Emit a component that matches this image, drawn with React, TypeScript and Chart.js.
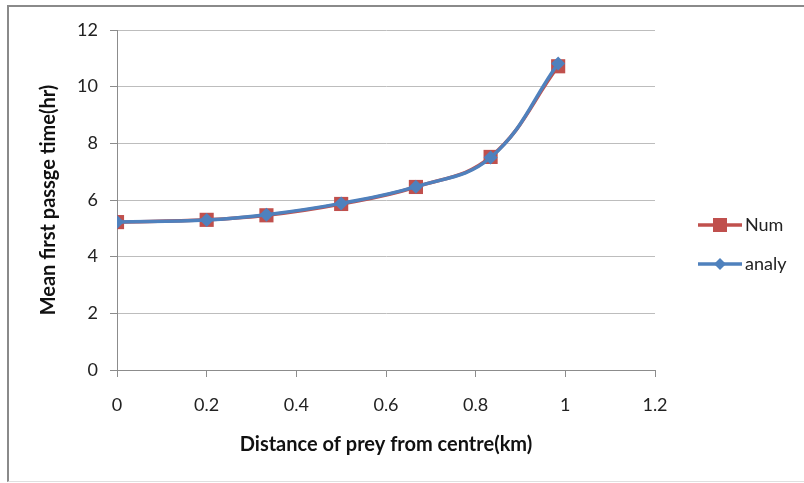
import React, { useEffect, useRef } from "react";
import { Chart, registerables } from "chart.js";

Chart.register(...registerables);

const distances = [0, 0.2, 0.3333, 0.5, 0.6667, 0.8333, 0.984];
const numValues = [5.22, 5.3, 5.46, 5.86, 6.46, 7.52, 10.72];
const analyValues = [5.22, 5.29, 5.48, 5.88, 6.47, 7.5, 10.82];
const seriesNames = ["Num", "analy"];
const xTitle = "Distance of prey from centre(km)";
const yTitle = "Mean first passge time(hr)";

const RED = "#C0504D";
const BLUE = "#4F81BD";
const FONT = "Lato, 'Open Sans', sans-serif";

const legendPlugin = {
  id: "sideLegend",
  afterDraw(chart: any) {
    const ctx = chart.ctx;
    const items = [
      { name: seriesNames[0], color: RED, shape: "rect" },
      { name: seriesNames[1], color: BLUE, shape: "diamond" },
    ];
    const x0 = 698;
    const x1 = 742;
    const ys = [225, 264];
    ctx.save();
    items.forEach((it, i) => {
      const y = ys[i];
      const cx = (x0 + x1) / 2;
      ctx.strokeStyle = it.color;
      ctx.lineWidth = 3.5;
      ctx.beginPath();
      ctx.moveTo(x0, y);
      ctx.lineTo(x1, y);
      ctx.stroke();
      ctx.fillStyle = it.color;
      if (it.shape === "rect") {
        ctx.fillRect(cx - 7, y - 7, 14, 14);
      } else {
        ctx.beginPath();
        ctx.moveTo(cx, y - 6);
        ctx.lineTo(cx + 6, y);
        ctx.lineTo(cx, y + 6);
        ctx.lineTo(cx - 6, y);
        ctx.closePath();
        ctx.fill();
      }
      ctx.fillStyle = "#222";
      ctx.font = "18px " + FONT;
      ctx.textBaseline = "middle";
      ctx.textAlign = "left";
      ctx.fillText(it.name, x1 + 3, y);
    });
    ctx.restore();
  },
};

export default function App() {
  const ref = useRef<HTMLCanvasElement | null>(null);
  useEffect(() => {
    if (!ref.current) return;
    const chart = new Chart(ref.current, {
      type: "line",
      data: {
        datasets: [
          {
            label: seriesNames[0],
            data: distances.map((x, i) => ({ x, y: numValues[i] })),
            borderColor: RED,
            backgroundColor: RED,
            borderWidth: 3.5,
            pointStyle: "rect",
            pointRadius: 10,
            pointBorderWidth: 0,
            tension: 0.4,
            order: 1,
          },
          {
            label: seriesNames[1],
            data: distances.map((x, i) => ({ x, y: analyValues[i] })),
            borderColor: BLUE,
            backgroundColor: BLUE,
            borderWidth: 3.5,
            pointStyle: "rectRot",
            pointRadius: 7,
            pointBorderWidth: 0,
            tension: 0.4,
            order: 0,
          },
        ],
      },
      options: {
        animation: false,
        responsive: false,
        layout: { padding: { left: 0, top: 30, right: 149, bottom: 0 } },
        plugins: { legend: { display: false }, tooltip: { enabled: false } },
        scales: {
          x: {
            type: "linear",
            min: 0,
            max: 1.2,
            ticks: {
              stepSize: 0.2,
              color: "#222",
              font: { family: FONT, size: 18 },
              padding: 17,
              callback: (v: any) => String(Math.round(v * 10) / 10),
            },
            grid: {
              drawOnChartArea: false,
              drawTicks: true,
              tickLength: 7,
              color: "#8c8c8c",
            },
            border: { color: "#8c8c8c", width: 1 },
            title: {
              display: true,
              text: xTitle,
              color: "#111",
              font: { family: FONT, size: 20, weight: "bold" },
              padding: { top: 0, bottom: 26 },
            },
            afterFit: (s: any) => {
              s.height = 113;
            },
          },
          y: {
            min: 0,
            max: 12,
            ticks: {
              stepSize: 2,
              color: "#222",
              font: { family: FONT, size: 18 },
              padding: 12,
            },
            grid: {
              color: "#bdbdbd",
              tickLength: 7,
              tickColor: "#8c8c8c",
            },
            border: { color: "#8c8c8c", width: 1 },
            title: {
              display: true,
              text: yTitle,
              color: "#111",
              font: { family: FONT, size: 20, weight: "bold" },
              padding: { top: 37, bottom: 0 },
            },
            afterFit: (s: any) => {
              s.width = 117;
            },
          },
        },
      },
      plugins: [legendPlugin],
    });
    return () => chart.destroy();
  }, []);

  return (
    <div style={{ position: "absolute", left: 0, top: 0, width: 804, height: 483, background: "#fff" }}>
      <div
        style={{
          position: "absolute",
          left: 7,
          top: 5,
          width: 797,
          height: 477,
          borderLeft: "2px solid #8a8a8a",
          borderTop: "2px solid #8a8a8a",
          borderBottom: "1px solid #e0e0e0",
          boxSizing: "border-box",
        }}
      />
      <canvas ref={ref} width={804} height={483} style={{ position: "absolute", left: 0, top: 0 }} />
    </div>
  );
}
